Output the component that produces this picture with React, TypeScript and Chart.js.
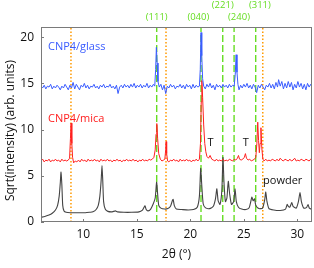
import React, { useEffect, useRef } from "react";
import { Chart, registerables } from "chart.js";

Chart.register(...registerables);

// ---- data ----
const xTicks = [10, 15, 20, 25, 30];
const yTicks = [0, 5, 10, 15, 20];
const xTitle = "2θ (°)";
const yTitle = "Sqrt(intensity) (arb. units)";

const orangeLines = [8.85, 17.73, 26.77];
const greenLines = [16.86, 21.0, 23.03, 24.09, 26.11];
const greenLabels = ["(111)", "(040)", "(221)", "(240)", "(311)"];
const greenLabelX = [16.86, 20.75, 23.03, 24.55, 26.5];
const greenLabelRow = [0, 0, 1, 0, 1];

const powder: number[][] = [
  [6.05, 0.5], [6.4, 0.6], [6.8, 0.75], [7.1, 0.95], [7.4, 1.3], [7.6, 1.8], [7.75, 2.8], [7.85, 4.2], [7.92, 5.4], [8.0, 4.0],
  [8.08, 1.8], [8.2, 1.2], [8.4, 1.05], [8.8, 1.0], [9.5, 1.0], [10.2, 1.0], [10.6, 1.05], [10.9, 1.1], [11.2, 1.35], [11.4, 1.8],
  [11.55, 2.8], [11.67, 4.5], [11.75, 6.1], [11.82, 4.5], [11.9, 2.2], [12.05, 1.4], [12.3, 1.15], [12.7, 1.1], [13.0, 1.2], [13.2, 1.1],
  [13.8, 1.05], [14.5, 1.05], [15.2, 1.1], [15.5, 1.25], [15.68, 1.6], [15.77, 1.75], [15.88, 1.35], [16.05, 1.2], [16.3, 1.4], [16.55, 2.0],
  [16.72, 2.6], [16.85, 4.3], [16.95, 3.0], [17.05, 1.8], [17.25, 1.5], [17.6, 1.4], [17.9, 1.45], [18.15, 1.7], [18.32, 2.3], [18.4, 2.45],
  [18.5, 1.8], [18.7, 1.4], [19.2, 1.35], [19.8, 1.3], [20.3, 1.35], [20.65, 1.6], [20.85, 2.8], [20.97, 5.8], [21.07, 4.0], [21.2, 2.0],
  [21.4, 1.55], [21.8, 1.45], [22.15, 1.7], [22.35, 2.5], [22.48, 3.6], [22.6, 2.3], [22.78, 1.9], [22.95, 3.5], [23.05, 7.0], [23.15, 4.2],
  [23.28, 2.2], [23.42, 2.6], [23.55, 4.4], [23.68, 3.0], [23.85, 1.9], [24.05, 2.2], [24.18, 3.6], [24.3, 2.2], [24.5, 1.6], [24.8, 1.4],
  [25.2, 1.35], [25.5, 1.55], [25.65, 2.2], [25.75, 2.7], [25.87, 2.3], [26.0, 2.5], [26.12, 1.8], [26.4, 1.45], [26.75, 1.5], [26.95, 2.4],
  [27.05, 3.25], [27.15, 2.3], [27.35, 1.45], [27.8, 1.3], [28.4, 1.25], [28.9, 1.4], [29.05, 1.9], [29.15, 1.7], [29.3, 1.6], [29.48, 2.1],
  [29.6, 1.7], [29.9, 1.5], [30.1, 2.2], [30.25, 3.2], [30.38, 2.2], [30.6, 1.5], [30.85, 1.55], [31.0, 1.9], [31.12, 1.5], [31.37, 1.35],
];

const glass: number[][] = [
  [6.05, 14.7], [6.2, 14.5], [6.35, 14.8], [6.5, 14.4], [6.65, 14.7], [6.8, 14.6], [6.95, 14.9], [7.1, 14.4], [7.25, 14.7], [7.4, 14.5],
  [7.55, 14.8], [7.7, 14.6], [7.85, 14.3], [8.0, 14.7], [8.15, 14.5], [8.3, 14.9], [8.45, 14.6], [8.6, 14.3], [8.75, 14.8], [8.9, 14.5],
  [9.05, 15.1], [9.2, 14.4], [9.35, 14.9], [9.5, 14.6], [9.65, 14.3], [9.8, 14.8], [9.95, 14.6], [10.1, 15.0], [10.25, 14.5], [10.4, 14.8],
  [10.55, 14.4], [10.7, 14.7], [10.85, 14.6], [11.0, 14.9], [11.15, 14.5], [11.3, 14.7], [11.45, 14.4], [11.6, 14.8], [11.75, 14.6], [11.9, 14.9],
  [12.05, 14.5], [12.2, 14.7], [12.35, 14.6], [12.5, 14.9], [12.65, 14.5], [12.8, 14.7], [12.95, 14.4], [13.1, 14.8], [13.25, 13.9], [13.4, 14.6],
  [13.55, 14.8], [13.7, 14.5], [13.85, 14.9], [14.0, 14.6], [14.15, 14.8], [14.3, 14.5], [14.45, 14.9], [14.6, 14.6], [14.75, 15.0], [14.9, 14.5],
  [15.05, 14.8], [15.2, 14.6], [15.35, 14.9], [15.5, 14.5], [15.65, 14.8], [15.8, 14.6], [15.95, 15.0], [16.1, 14.5], [16.25, 14.8], [16.4, 14.6],
  [16.55, 14.9], [16.68, 14.7], [16.76, 16.5], [16.83, 18.9], [16.9, 17.2], [16.98, 15.2], [17.1, 14.6], [17.25, 14.9], [17.4, 14.3], [17.55, 14.8],
  [17.7, 13.9], [17.85, 14.7], [18.0, 14.5], [18.15, 14.9], [18.3, 14.6], [18.45, 14.8], [18.6, 14.4], [18.75, 14.7], [18.9, 14.6], [19.05, 14.9],
  [19.2, 14.5], [19.35, 14.8], [19.5, 14.4], [19.65, 14.9], [19.8, 14.6], [19.95, 14.8], [20.1, 14.4], [20.25, 14.9], [20.4, 14.5], [20.55, 14.8],
  [20.7, 14.6], [20.85, 14.7], [20.93, 16.5], [21.0, 20.5], [21.07, 18.0], [21.15, 15.5], [21.25, 14.7], [21.4, 14.4], [21.55, 14.9], [21.7, 14.6],
  [21.85, 15.0], [22.0, 14.5], [22.15, 14.8], [22.3, 14.3], [22.45, 14.9], [22.6, 14.6], [22.75, 14.8], [22.9, 14.5], [23.05, 14.9], [23.2, 14.6],
  [23.35, 14.8], [23.5, 14.5], [23.65, 14.9], [23.8, 14.6], [23.95, 14.8], [24.1, 14.7], [24.2, 16.0], [24.28, 18.1], [24.36, 16.2], [24.45, 14.9],
  [24.55, 14.3], [24.7, 14.8], [24.85, 14.5], [25.0, 14.9], [25.15, 14.6], [25.3, 15.0], [25.45, 14.5], [25.6, 14.8], [25.75, 14.4], [25.9, 14.9],
  [26.05, 14.6], [26.2, 14.0], [26.35, 14.8], [26.5, 14.5], [26.65, 14.9], [26.8, 14.6], [26.95, 14.3], [27.1, 14.8], [27.25, 14.6], [27.4, 15.0],
  [27.55, 14.5], [27.7, 14.9], [27.85, 14.4], [28.0, 15.1], [28.15, 14.6], [28.25, 15.4], [28.4, 14.7], [28.55, 15.2], [28.7, 14.4], [28.85, 15.0],
  [29.0, 14.5], [29.15, 15.2], [29.3, 14.6], [29.45, 15.1], [29.6, 14.3], [29.75, 14.9], [29.9, 14.5], [30.05, 15.2], [30.2, 14.6], [30.35, 15.0],
  [30.5, 14.4], [30.65, 14.9], [30.8, 14.3], [30.95, 15.0], [31.1, 14.6], [31.25, 14.9], [31.37, 14.6],
];

const mica: number[][] = [
  [6.05, 6.6], [6.2, 6.8], [6.35, 6.5], [6.5, 6.7], [6.65, 6.6], [6.8, 6.8], [6.95, 6.5], [7.1, 6.7], [7.25, 6.6], [7.4, 6.8],
  [7.55, 6.6], [7.7, 6.7], [7.85, 6.5], [8.0, 6.8], [8.15, 6.6], [8.3, 6.7], [8.45, 6.6], [8.6, 6.7], [8.72, 6.9], [8.8, 9.0],
  [8.86, 10.7], [8.93, 8.5], [9.0, 7.0], [9.1, 6.4], [9.25, 6.6], [9.4, 6.5], [9.55, 6.7], [9.7, 6.5], [9.85, 6.8], [10.0, 6.6],
  [10.15, 6.7], [10.3, 6.5], [10.45, 6.8], [10.6, 6.6], [10.75, 6.7], [10.9, 6.6], [11.05, 6.8], [11.2, 6.6], [11.35, 6.7], [11.5, 6.5],
  [11.65, 6.8], [11.8, 6.6], [11.95, 6.7], [12.1, 6.6], [12.25, 6.8], [12.4, 6.6], [12.55, 6.7], [12.7, 6.5], [12.85, 6.7], [13.0, 6.6],
  [13.15, 6.8], [13.3, 6.6], [13.45, 6.7], [13.6, 6.5], [13.75, 6.7], [13.9, 6.6], [14.05, 6.8], [14.2, 6.6], [14.35, 6.7], [14.5, 6.6],
  [14.65, 6.8], [14.8, 6.6], [14.95, 6.7], [15.1, 6.5], [15.25, 6.7], [15.4, 6.6], [15.55, 6.8], [15.7, 6.6], [15.85, 6.7], [16.0, 6.6],
  [16.15, 6.8], [16.3, 6.7], [16.45, 6.8], [16.6, 7.0], [16.72, 7.8], [16.8, 9.5], [16.87, 10.65], [16.95, 9.0], [17.05, 7.4], [17.2, 6.8],
  [17.35, 6.6], [17.5, 6.7], [17.62, 6.8], [17.7, 7.8], [17.74, 8.7], [17.79, 7.4], [17.88, 6.6], [18.0, 6.5], [18.15, 6.7], [18.3, 6.6],
  [18.45, 6.8], [18.6, 6.6], [18.75, 6.7], [18.9, 6.5], [19.05, 6.8], [19.2, 6.6], [19.35, 6.7], [19.5, 6.6], [19.65, 6.8], [19.8, 6.6],
  [19.95, 6.7], [20.1, 6.5], [20.25, 6.7], [20.4, 6.6], [20.55, 6.8], [20.7, 6.6], [20.85, 6.8], [20.95, 8.5], [21.02, 13.0], [21.08, 15.3],
  [21.15, 13.5], [21.25, 10.5], [21.35, 8.5], [21.45, 7.6], [21.55, 7.1], [21.7, 6.9], [21.85, 7.2], [22.0, 6.8], [22.15, 6.7], [22.3, 6.6],
  [22.45, 6.8], [22.6, 6.6], [22.75, 6.7], [22.9, 6.6], [23.05, 6.8], [23.2, 6.6], [23.35, 6.7], [23.5, 6.6], [23.65, 6.8], [23.8, 6.7],
  [23.95, 6.6], [24.1, 6.8], [24.25, 6.7], [24.4, 6.9], [24.5, 7.2], [24.6, 6.8], [24.75, 6.7], [24.9, 6.8], [25.05, 7.0], [25.15, 7.4],
  [25.25, 6.9], [25.4, 6.7], [25.55, 6.8], [25.7, 6.6], [25.85, 6.7], [26.0, 6.8], [26.12, 7.0], [26.22, 8.5], [26.3, 10.8], [26.38, 8.8],
  [26.45, 7.5], [26.52, 8.5], [26.6, 10.2], [26.68, 8.0], [26.78, 6.8], [26.9, 6.6], [27.05, 6.8], [27.2, 6.6], [27.35, 6.7], [27.5, 6.6],
  [27.65, 6.8], [27.8, 6.7], [27.95, 6.6], [28.1, 6.8], [28.25, 6.6], [28.4, 6.9], [28.55, 6.7], [28.7, 6.6], [28.85, 6.8], [29.0, 6.7],
  [29.15, 6.6], [29.3, 6.8], [29.45, 6.6], [29.6, 6.7], [29.75, 6.9], [29.9, 6.6], [30.05, 6.7], [30.2, 6.6], [30.35, 6.8], [30.5, 6.7],
  [30.65, 6.6], [30.8, 6.8], [30.95, 6.7], [31.1, 6.6], [31.25, 6.8], [31.37, 6.7],
];

// text annotations placed in data coordinates
const seriesLabels = ["CNP4/glass", "CNP4/mica", "powder"];
const seriesLabelX = [6.7, 6.7, 26.8];
const seriesLabelY = [18.9, 11.2, 4.5];
const tMarkX = [21.9, 25.18];
const tMarkY = [8.55, 8.55];

const X_MIN = 6.05;
const X_MAX = 31.37;
const Y_MIN = 0;
const Y_MAX = 21.1;

const FONT = "'Open Sans', 'Noto Sans', sans-serif";
const BLUE = "#3a5cff";
const RED = "#ff2020";
const DARK = "#444444";
const GREEN = "#66dd22";
const ORANGE = "#ff9a00";
const FRAME = "#7a7a7a";
const TEXT = "#111111";

const toPts = (arr: number[][]) => arr.map(([x, y]) => ({ x, y }));

export default function App() {
  const ref = useRef<HTMLCanvasElement | null>(null);

  useEffect(() => {
    document.body.style.margin = "0";
    const canvas = ref.current;
    if (!canvas) return;

    const vLine = (x: number, color: string, dash: number[], width: number) => ({
      type: "line" as const,
      data: [{ x, y: Y_MIN }, { x, y: Y_MAX }],
      borderColor: color,
      borderWidth: width,
      borderDash: dash,
      pointRadius: 0,
      fill: false,
      order: 10,
    });

    const framePlugin = {
      id: "frameAndText",
      afterDatasetsDraw(chart: any) {
        const { ctx, chartArea: a, scales } = chart;
        const xs = scales.x;
        const ys = scales.y;
        ctx.save();
        // frame + inside ticks
        ctx.strokeStyle = FRAME;
        ctx.lineWidth = 1;
        ctx.strokeRect(a.left + 0.5, a.top + 0.5, a.right - a.left - 1, a.bottom - a.top - 1);
        ctx.beginPath();
        xTicks.forEach((v) => {
          const px = Math.round(xs.getPixelForValue(v)) + 0.5;
          ctx.moveTo(px, a.bottom);
          ctx.lineTo(px, a.bottom - 3);
        });
        yTicks.forEach((v) => {
          const py = Math.round(ys.getPixelForValue(v)) + 0.5;
          ctx.moveTo(a.left, py);
          ctx.lineTo(a.left + 3, py);
        });
        ctx.stroke();

        // tick labels
        ctx.fillStyle = TEXT;
        ctx.font = `12px ${FONT}`;
        ctx.textBaseline = "middle";
        ctx.textAlign = "right";
        yTicks.forEach((v) => {
          ctx.fillText(String(v), a.left - 7, ys.getPixelForValue(v));
        });
        ctx.textAlign = "center";
        xTicks.forEach((v) => {
          ctx.fillText(String(v), xs.getPixelForValue(v), a.bottom + 13);
        });

        // axis titles
        ctx.fillText(xTitle, (a.left + a.right) / 2, a.bottom + 33);
        ctx.save();
        ctx.translate(11, (a.top + a.bottom) / 2 + 6);
        ctx.rotate(-Math.PI / 2);
        ctx.fillText(yTitle, 0, 0);
        ctx.restore();

        // hkl labels above chart
        ctx.font = `9.5px ${FONT}`;
        ctx.fillStyle = GREEN;
        ctx.textAlign = "center";
        greenLabels.forEach((t, i) => {
          const px = xs.getPixelForValue(greenLabelX[i]);
          const py = greenLabelRow[i] === 0 ? 17 : 5.5;
          ctx.fillText(t, px, py);
        });

        // series labels
        ctx.font = `11px ${FONT}`;
        ctx.textAlign = "left";
        const colors = [BLUE, RED, TEXT];
        seriesLabels.forEach((t, i) => {
          ctx.fillStyle = colors[i];
          ctx.fillText(t, xs.getPixelForValue(seriesLabelX[i]), ys.getPixelForValue(seriesLabelY[i]));
        });
        ctx.fillStyle = TEXT;
        ctx.textAlign = "center";
        tMarkX.forEach((x, i) => {
          ctx.fillText("T", xs.getPixelForValue(x), ys.getPixelForValue(tMarkY[i]));
        });
        ctx.restore();
      },
    };

    const chart = new Chart(canvas, {
      type: "line",
      data: {
        datasets: [
          { data: toPts(powder), borderColor: DARK, borderWidth: 1.1, pointRadius: 0, fill: false, tension: 0.2, order: 3 },
          { data: toPts(mica), borderColor: RED, borderWidth: 1, pointRadius: 0, fill: false, order: 2 },
          { data: toPts(glass), borderColor: BLUE, borderWidth: 1, pointRadius: 0, fill: false, order: 1 },
          ...orangeLines.map((x) => vLine(x, ORANGE, [1.5, 2], 1.5)),
          ...greenLines.map((x) => vLine(x, GREEN, [7, 3], 1.4)),
        ] as any,
      },
      options: {
        animation: false,
        responsive: false,
        parsing: false as any,
        layout: { padding: { left: 0, top: 27, right: 2, bottom: 0 } },
        plugins: { legend: { display: false }, tooltip: { enabled: false } },
        scales: {
          x: {
            type: "linear",
            min: X_MIN,
            max: X_MAX,
            grid: { display: false },
            border: { display: false },
            ticks: { display: false },
            afterFit: (s: any) => {
              s.height = 46;
            },
          },
          y: {
            type: "linear",
            min: Y_MIN,
            max: Y_MAX,
            grid: { display: false },
            border: { display: false },
            ticks: { display: false },
            afterFit: (s: any) => {
              s.width = 41;
            },
          },
        },
      },
      plugins: [framePlugin],
    });

    return () => chart.destroy();
  }, []);

  return (
    <div style={{ width: 314, height: 268 }}>
      <canvas ref={ref} width={314} height={268} style={{ width: 314, height: 268, display: "block" }} />
    </div>
  );
}
